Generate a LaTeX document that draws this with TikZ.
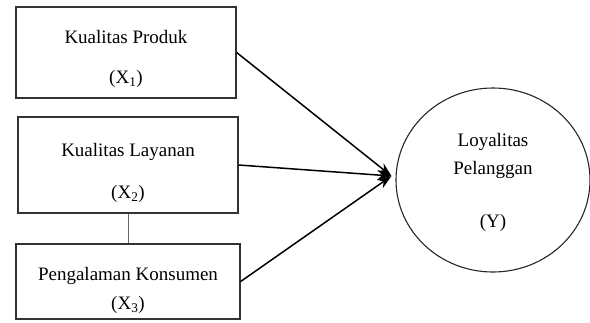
\documentclass[tikz,border=0pt]{standalone}
\usepackage{fontspec}
\setmainfont{Liberation Serif}
\usetikzlibrary{shapes.geometric}
\usetikzlibrary{arrows.meta}

\tikzset{
    varbox/.style={draw=black!80, line width=1.3pt, rectangle, inner sep=0pt},
    lbl/.style={font=\fontsize{19}{21}\selectfont, inner sep=0pt}
}

\begin{document}
\begin{tikzpicture}[x=1pt, y=-1pt]
        \useasboundingbox (0,0) rectangle (590,322);
        % independent variables
        \node[varbox, minimum width=220pt, minimum height=91pt] (xone) at (126,52.5) {};
        \node[varbox, minimum width=220pt, minimum height=96pt] (xtwo) at (128,165) {};
        \node[varbox, minimum width=224pt, minimum height=75pt] (xthree) at (128,281.5) {};
        \node[lbl] (xonename) at (126,37) {Kualitas Produk};
        \node[lbl] (xonesym) at (126,79) {(X\textsubscript{1})};
        \node[lbl] (xtwoname) at (128,152) {Kualitas Layanan};
        \node[lbl] (xtwosym) at (128,194) {(X\textsubscript{2})};
        \node[lbl] (xthreename) at (128,276) {Pengalaman Konsumen};
        \node[lbl] (xthreesym) at (128,305) {(X\textsubscript{3})};
        % dependent variable
        \node[draw=black!85, line width=1.1pt, ellipse, minimum width=194pt, minimum height=184pt] (yvar) at (493,180) {};
        \node[lbl] (yname) at (493,142) {Loyalitas};
        \node[lbl] (yname2) at (493,170) {Pelanggan};
        \node[lbl] (ysym) at (493,223) {(Y)};
        % paths
        \draw[line width=0.8pt, black!60] (xtwo.south) -- (xthree.north);
        \draw[line width=1.5pt, -{Stealth[length=14pt, width=10pt]}] (xone.east) -- ([xshift=-4pt,yshift=4pt]yvar.west);
        \draw[line width=1.5pt, -{Stealth[length=14pt, width=10pt]}] (xtwo.east) -- ([xshift=-4pt,yshift=4pt]yvar.west);
        \draw[line width=1.5pt, -{Stealth[length=14pt, width=10pt]}] (xthree.east) -- ([xshift=-4pt,yshift=4pt]yvar.west);
    \end{tikzpicture}
\end{document}
